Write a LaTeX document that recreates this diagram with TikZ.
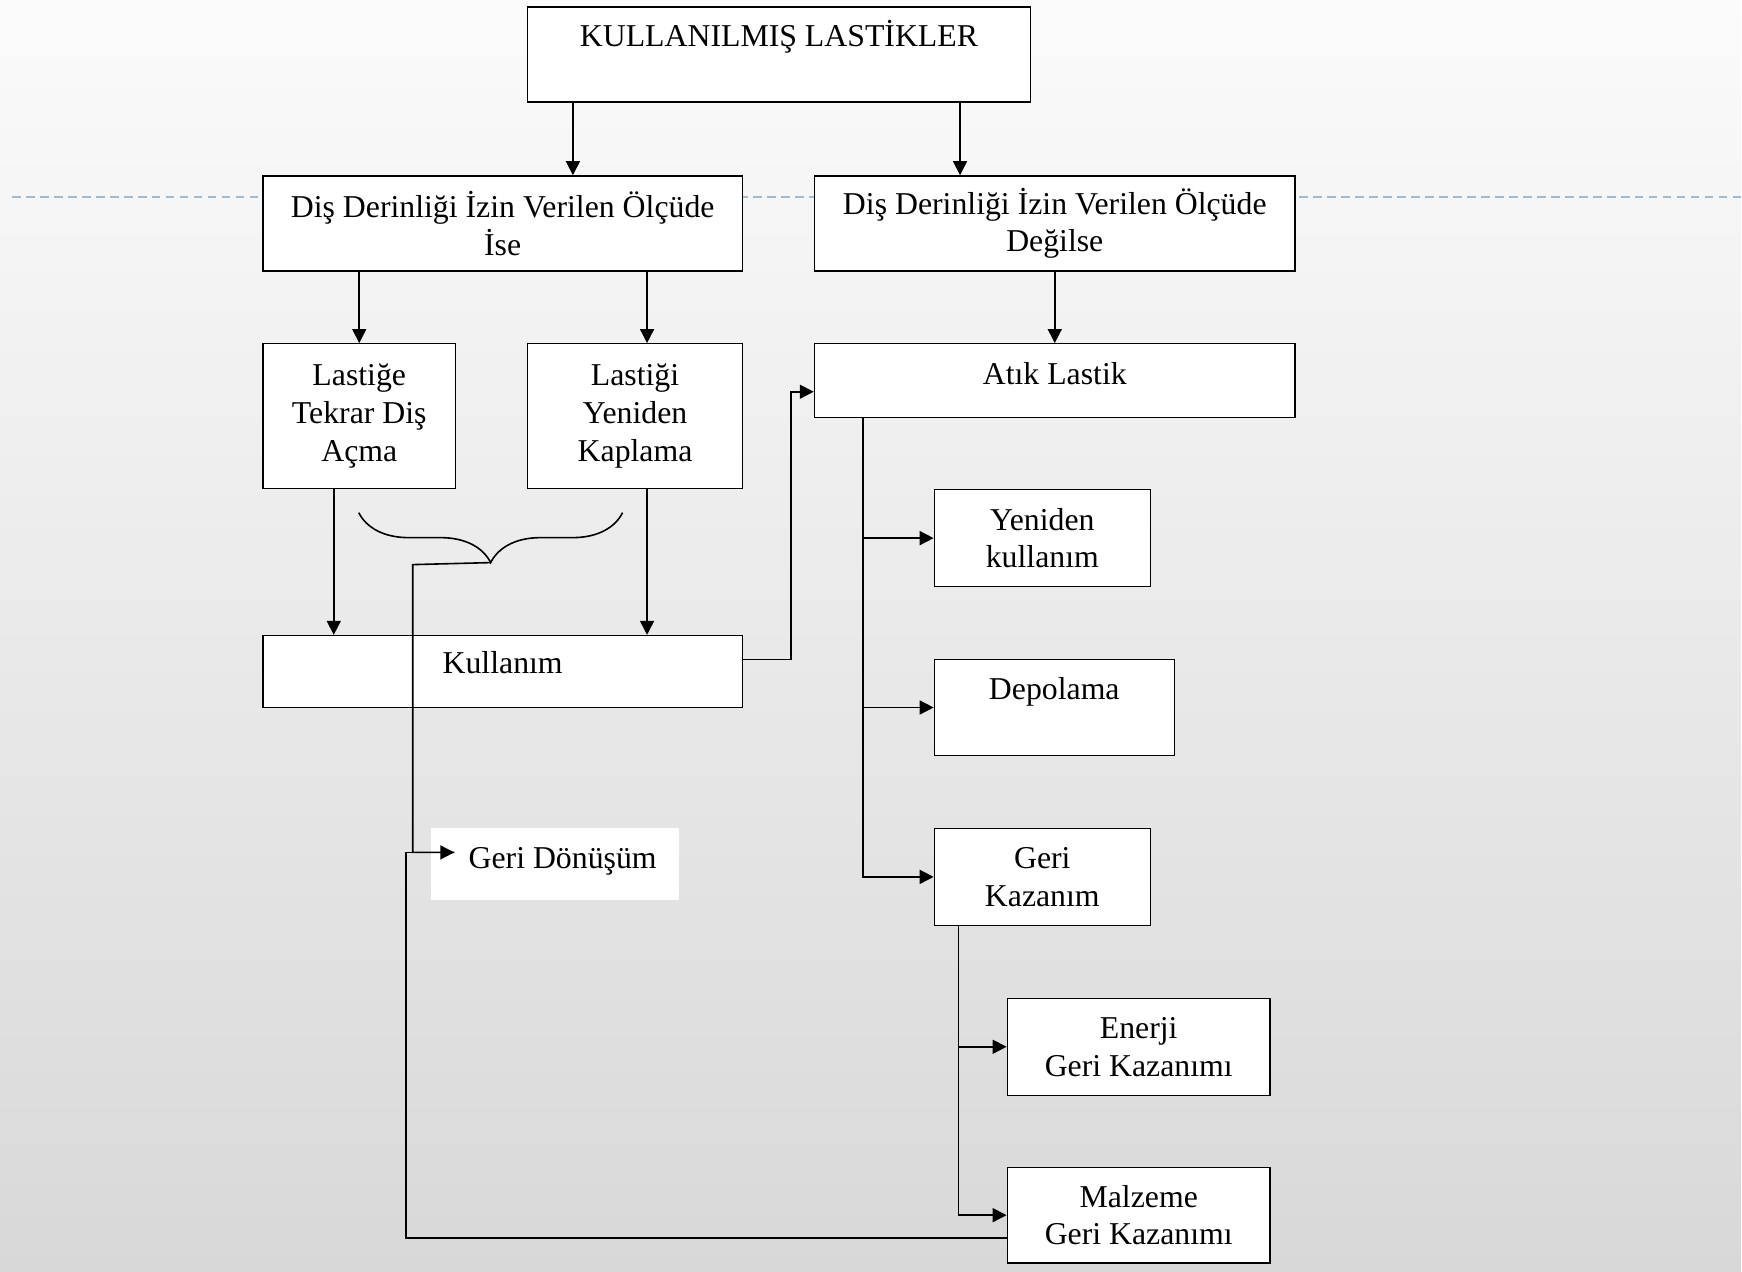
\documentclass[tikz,border=0pt]{standalone}
\usepackage{fontspec}
\setmainfont{Liberation Serif}
\usetikzlibrary{arrows.meta,decorations.pathreplacing}
\definecolor{zeminust}{HTML}{FBFBFB}
\definecolor{zeminalt}{HTML}{D8D8D8}
\definecolor{kesikmavi}{HTML}{A3B9CC}
\tikzset{
  >={Triangle[length=7pt,width=7pt]},
  % kutular
  kutu/.style={draw=black,fill=white,line width=0.7pt,inner sep=0pt,align=center,
               font=\fontsize{15.9}{18.9}\selectfont},
  teksatir/.style={text height=20pt,text depth=#1},
  etiket/.style={fill=white,inner sep=0pt,font=\fontsize{15.9}{18.9}\selectfont},
  % baglantilar
  ok/.style={->,draw=black,line width=0.8pt},
  cizgi/.style={draw=black,line width=0.8pt},
  parantez/.style={draw=black,line width=0.8pt,decorate,
                   decoration={brace,mirror,amplitude=25pt}},
  kilavuz/.style={draw=kesikmavi,line width=1.2pt,dash pattern=on 4.3pt off 2.7pt},
}
\begin{document}
\begin{tikzpicture}[x=0.5pt,y=-0.5pt]
  \fill[top color=zeminust,bottom color=zeminalt] (0,0) rectangle (1742,1272);
  \draw[kilavuz] (12,197) -- (1742,197);
  % ust duzey
  \node[kutu,minimum width=251.5pt,teksatir=27.5pt] (ust) at (779.5,54.5) {KULLANILMIŞ LASTİKLER};
  \node[kutu,minimum width=240pt,minimum height=47.5pt] (ise) at (503,223.5) {Diş Derinliği İzin Verilen Ölçüde\\İse};
  \node[kutu,minimum width=240.5pt,minimum height=47.5pt] (degil) at (1055.5,223.5) {Diş Derinliği İzin Verilen Ölçüde\\Değilse};
  % sol kol
  \node[kutu,minimum width=96.5pt,minimum height=72.5pt] (acma) at (359.5,416.5) {Lastiğe\\Tekrar Diş\\Açma};
  \node[kutu,minimum width=107.5pt,minimum height=72.5pt] (kaplama) at (635.5,416.5) {Lastiği\\Yeniden\\Kaplama};
  \node[kutu,minimum width=240pt,text height=19pt,text depth=17pt] (kullanim) at (503,672) {Kullanım};
  \node[etiket,minimum width=124pt,teksatir=16pt] (geridon) at (555,865) {\hspace{8pt}Geri Dönüşüm};
  % sag kol
  \node[kutu,minimum width=240.5pt,text height=20.5pt,text depth=16.5pt] (atik) at (1055.5,381) {Atık Lastik};
  \node[kutu,minimum width=108pt,minimum height=48.5pt] (yeniden) at (1043,538.5) {Yeniden\\kullanım};
  \node[kutu,minimum width=120pt,teksatir=28pt] (depolama) at (1055,708) {Depolama};
  \node[kutu,minimum width=108pt,minimum height=48.5pt] (gerikaz) at (1043,877.5) {Geri\\Kazanım};
  \node[kutu,minimum width=131.5pt,minimum height=48.5pt] (enerji) at (1139.5,1047.5) {Enerji\\Geri Kazanımı};
  \node[kutu,minimum width=131.5pt,minimum height=48pt] (malzeme) at (1139.5,1216) {Malzeme\\Geri Kazanımı};
  % oklar
  \draw[ok] ([xshift=23pt]ust.south west) -- ([xshift=23pt]ust.south west |- ise.north);
  \draw[ok] ([xshift=-35.5pt]ust.south east) -- ([xshift=-35.5pt]ust.south east |- degil.north);
  \draw[ok] (ise.south -| acma.north) -- (acma.north);
  \draw[ok] ([xshift=6pt]kaplama.north |- ise.south) -- ([xshift=6pt]kaplama.north);
  \draw[ok] (degil.south) -- (atik.north);
  \draw[ok] ([xshift=-12.75pt]acma.south) -- ([xshift=-12.75pt]acma.south |- kullanim.north);
  \draw[ok] ([xshift=6pt]kaplama.south) -- ([xshift=6pt]kaplama.south |- kullanim.north);
  \draw[ok] ([yshift=6pt]kullanim.east) -- ++(48,0) |- ([yshift=-5.5pt]atik.west);
  \coordinate (atikdal) at ([xshift=24.5pt]atik.south west);
  \draw[ok] (atikdal) |- (gerikaz.west);
  \draw[ok] (atikdal |- yeniden.west) -- (yeniden.west);
  \draw[ok] (atikdal |- depolama.west) -- (depolama.west);
  \coordinate (kazdal) at ([xshift=12.5pt]gerikaz.south west);
  \draw[ok] (kazdal) |- (malzeme.west);
  \draw[ok] (kazdal |- enerji.west) -- (enerji.west);
  % parantez ve geri donusum
  \draw[parantez] (359,513) -- (623,513);
  \coordinate (ucu) at (491,563);
  \draw[cizgi] (ucu) -- ++(-78,2) |- ([xshift=12pt,yshift=6pt]geridon.west);
  \draw[ok] ([yshift=-11.5pt]malzeme.west) -- ++(-601,0) |- ([xshift=12pt,yshift=6pt]geridon.west);
\end{tikzpicture}
\end{document}
